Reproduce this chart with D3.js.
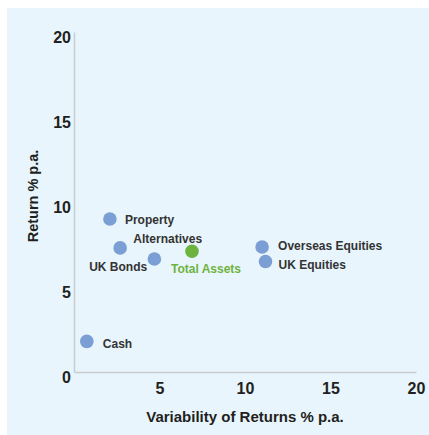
<!DOCTYPE html>
<html>
<head>
<meta charset="utf-8">
<script src="https://cdn.jsdelivr.net/npm/d3@7"></script>
<style>
  html, body { margin: 0; padding: 0; background: #fff; }
  svg text { font-family: "Liberation Sans", Arial, sans-serif; font-weight: bold; }
</style>
</head>
<body>
<svg id="chart" width="429" height="435"></svg>
<script>
// asset classes: variability (x) vs return (y)
const assets = ['Property', 'UK Bonds', 'Alternatives', 'Total Assets', 'Cash', 'Overseas Equities', 'UK Equities'];
const variability = [2.1, 2.7, 4.7, 6.9, 0.75, 11.0, 11.2];
const returns = [9.0, 7.3, 6.65, 7.1, 1.8, 7.35, 6.5];
const xTicks = [5, 10, 15, 20];
const yTicks = [0, 5, 10, 15, 20];

// label placement relative to each point
const labelPos = {
    'Property': { dx: 15, dy: 5, anchor: 'start' },
    'UK Bonds': { dx: -2, dy: 23, anchor: 'middle' },
    'Alternatives': { dx: -21, dy: -16, anchor: 'start' },
    'Total Assets': { dx: -21, dy: 22, anchor: 'start' },
    'Cash': { dx: 16, dy: 7, anchor: 'start' },
    'Overseas Equities': { dx: 16, dy: 3, anchor: 'start' },
    'UK Equities': { dx: 13, dy: 7, anchor: 'start' }
};

const svg = d3.select('#chart');
const margin = { top: 32, right: 13, bottom: 63, left: 74 };
const width = 429 - margin.left - margin.right;
const height = 435 - margin.top - margin.bottom;

// light blue panel
svg.append('rect')
    .attr('x', 7).attr('y', 8)
    .attr('width', 422).attr('height', 427)
    .attr('fill', '#e8f5fc');

const g = svg.append('g').attr('transform', `translate(${margin.left},${margin.top})`);

const x = d3.scaleLinear().domain([0, 20]).range([0, width]);
const y = d3.scaleLinear().domain([0, 20]).range([height, 0]);

const xAxis = g.append('g')
    .attr('transform', `translate(0,${height})`)
    .call(d3.axisBottom(x).tickValues(xTicks).tickSize(0).tickPadding(11));
const yAxis = g.append('g')
    .call(d3.axisLeft(y).tickValues(yTicks).tickSize(0).tickPadding(3));

[xAxis, yAxis].forEach(a => {
    a.select('.domain').attr('stroke', '#c8cdd0').attr('stroke-width', 1.5);
    a.selectAll('text')
        .attr('fill', '#231f20')
        .style('font-size', '16px')
        .style('font-family', '"Liberation Sans", Arial, sans-serif')
        .style('font-weight', 'bold');
});
yAxis.selectAll('text').attr('dy', '0.65em');

g.append('text')
    .attr('x', width / 2)
    .attr('y', height + 50)
    .attr('text-anchor', 'middle')
    .attr('fill', '#231f20')
    .style('font-size', '15px')
    .text('Variability of Returns % p.a.');

g.append('text')
    .attr('transform', `translate(-36,${height / 2 - 6}) rotate(-90)`)
    .attr('text-anchor', 'middle')
    .attr('fill', '#231f20')
    .style('font-size', '14.5px')
    .text('Return % p.a.');

const pts = g.selectAll('.pt')
    .data(assets)
    .enter().append('g')
    .attr('class', 'pt')
    .attr('transform', (d, i) => `translate(${x(variability[i])},${y(returns[i])})`);

pts.append('circle')
    .attr('r', 6.8)
    .attr('fill', d => d === 'Total Assets' ? '#6db33f' : '#7b9fd4');

pts.append('text')
    .attr('x', d => labelPos[d].dx)
    .attr('y', d => labelPos[d].dy)
    .attr('text-anchor', d => labelPos[d].anchor)
    .attr('fill', d => d === 'Total Assets' ? '#6db33f' : '#333')
    .style('font-size', '12px')
    .text(d => d);
</script>
</body>
</html>
